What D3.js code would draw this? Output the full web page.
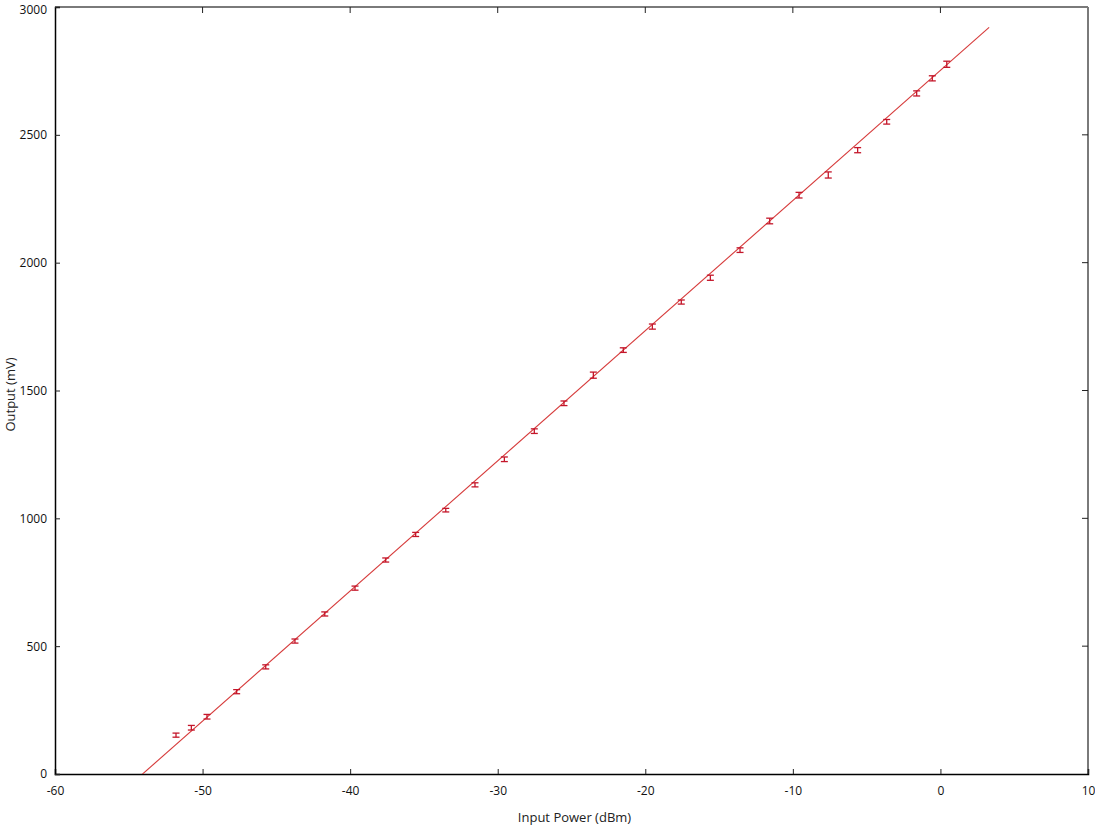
<!DOCTYPE html>
<html>
<head>
<meta charset="utf-8">
<script src="https://cdn.jsdelivr.net/npm/d3@7"></script>
<style>
  body { margin: 0; background: #fff; }
  svg { font-family: "Open Sans", "Noto Sans", sans-serif; }
</style>
</head>
<body>
<div id="chart"></div>
<script>
const inputPower = [-51.8, -50.76, -49.7, -47.69, -45.72, -43.74, -41.72, -39.67, -37.59, -35.56,
  -33.52, -31.54, -29.55, -27.52, -25.51, -23.52, -21.49, -19.52, -17.56, -15.59,
  -13.58, -11.57, -9.58, -7.6, -5.61, -3.64, -1.61, -0.55, 0.43];
const outputMv = [152, 181, 224, 322, 419, 520, 626, 727, 837, 937,
  1032, 1131, 1231, 1341, 1450, 1560, 1658, 1750, 1846, 1941,
  2049, 2163, 2264, 2343, 2440, 2551, 2662, 2721, 2776];
const outputErr = [8, 9, 9, 8, 8, 8, 8, 8, 8, 8,
  7, 8, 9, 9, 9, 12, 9, 10, 8, 10,
  9, 11, 11, 12, 10, 9, 10, 10, 12];

// linear fit drawn through the data
const fitSlope = 50.9;
const fitIntercept = 2752;
const fitRange = [-60, 3.3];

const xTicks = [-60, -50, -40, -30, -20, -10, 0, 10];
const yTicks = [0, 500, 1000, 1500, 2000, 2500, 3000];

const width = 1095;
const height = 827;
const margin = {left: 55, right: 7, top: 7, bottom: 53};

const svg = d3.select("#chart")
  .append("svg")
  .attr("width", width)
  .attr("height", height);

const x = d3.scaleLinear()
  .domain([-60, 10])
  .range([margin.left, width - margin.right]);

const y = d3.scaleLinear()
  .domain([0, 3000])
  .range([height - margin.bottom, margin.top]);

const x0 = margin.left, x1 = width - margin.right;
const y0 = height - margin.bottom, y1 = margin.top;

// top / right frame (grey), drawn first
svg.append("line").attr("x1", x0).attr("x2", x1).attr("y1", y1).attr("y2", y1)
  .attr("stroke", "#7a7a7a").attr("stroke-width", 2);
svg.append("line").attr("x1", x1).attr("x2", x1).attr("y1", y1).attr("y2", y0)
  .attr("stroke", "#7a7a7a").attr("stroke-width", 2);

// axes with inward ticks, plain hyphen for negatives like gnuplot
const xAxis = svg.append("g")
  .attr("transform", `translate(0,${y0})`)
  .call(d3.axisBottom(x).tickValues(xTicks).tickSize(-5).tickPadding(12).tickFormat(d => String(d)));
const yAxis = svg.append("g")
  .attr("transform", `translate(${x0},0)`)
  .call(d3.axisLeft(y).tickValues(yTicks).tickSize(-5).tickPadding(8).tickFormat(d => String(d)));

[xAxis, yAxis].forEach(g => {
  g.select(".domain").attr("stroke", "#000").attr("stroke-width", 1.5);
  g.selectAll(".tick line").attr("stroke", "#222");
  g.selectAll(".tick text").attr("font-size", 12).attr("fill", "#111")
    .attr("font-family", '"Open Sans", sans-serif');
});
// keep the top label inside the page
yAxis.selectAll(".tick text").filter(d => d === 3000).attr("dy", "0.55em");

// mirrored ticks on top and right
svg.append("g").selectAll("line").data(xTicks.slice(1, -1)).enter().append("line")
  .attr("x1", d => x(d)).attr("x2", d => x(d))
  .attr("y1", y1).attr("y2", y1 + 6)
  .attr("stroke", "#222");
svg.append("g").selectAll("line").data(yTicks.slice(1, -1)).enter().append("line")
  .attr("x1", x1).attr("x2", x1 - 6)
  .attr("y1", d => y(d)).attr("y2", d => y(d))
  .attr("stroke", "#222");

// axis labels
svg.append("text")
  .attr("x", (x0 + x1) / 2 + 3)
  .attr("y", 822)
  .attr("text-anchor", "middle")
  .attr("font-size", 13)
  .attr("fill", "#222")
  .text("Input Power (dBm)");

svg.append("text")
  .attr("transform", `translate(15,${(y0 + y1) / 2 + 4}) rotate(-90)`)
  .attr("text-anchor", "middle")
  .attr("font-size", 13)
  .attr("fill", "#222")
  .text("Output (mV)");

// fit line, clipped to the plot area
svg.append("clipPath").attr("id", "plotclip")
  .append("rect").attr("x", x0).attr("y", y1).attr("width", x1 - x0).attr("height", y0 - y1);

const fitPts = fitRange.map(p => [p, fitSlope * p + fitIntercept]);
svg.append("path")
  .datum(fitPts)
  .attr("clip-path", "url(#plotclip)")
  .attr("fill", "none")
  .attr("stroke", "#d63a3a")
  .attr("stroke-width", 1.1)
  .attr("d", d3.line().x(d => x(d[0])).y(d => y(d[1])));

// error bars
const pts = inputPower.map((p, i) => ({p: p, v: outputMv[i], e: outputErr[i]}));
const bars = svg.append("g").attr("stroke", "#c4162a").attr("stroke-width", 1.3);
bars.selectAll(".eb").data(pts).enter().append("line")
  .attr("x1", d => x(d.p)).attr("x2", d => x(d.p))
  .attr("y1", d => y(d.v - d.e)).attr("y2", d => y(d.v + d.e));
bars.selectAll(".capT").data(pts).enter().append("line")
  .attr("x1", d => x(d.p) - 3.5).attr("x2", d => x(d.p) + 3.5)
  .attr("y1", d => y(d.v + d.e)).attr("y2", d => y(d.v + d.e));
bars.selectAll(".capB").data(pts).enter().append("line")
  .attr("x1", d => x(d.p) - 3.5).attr("x2", d => x(d.p) + 3.5)
  .attr("y1", d => y(d.v - d.e)).attr("y2", d => y(d.v - d.e));
</script>
</body>
</html>
